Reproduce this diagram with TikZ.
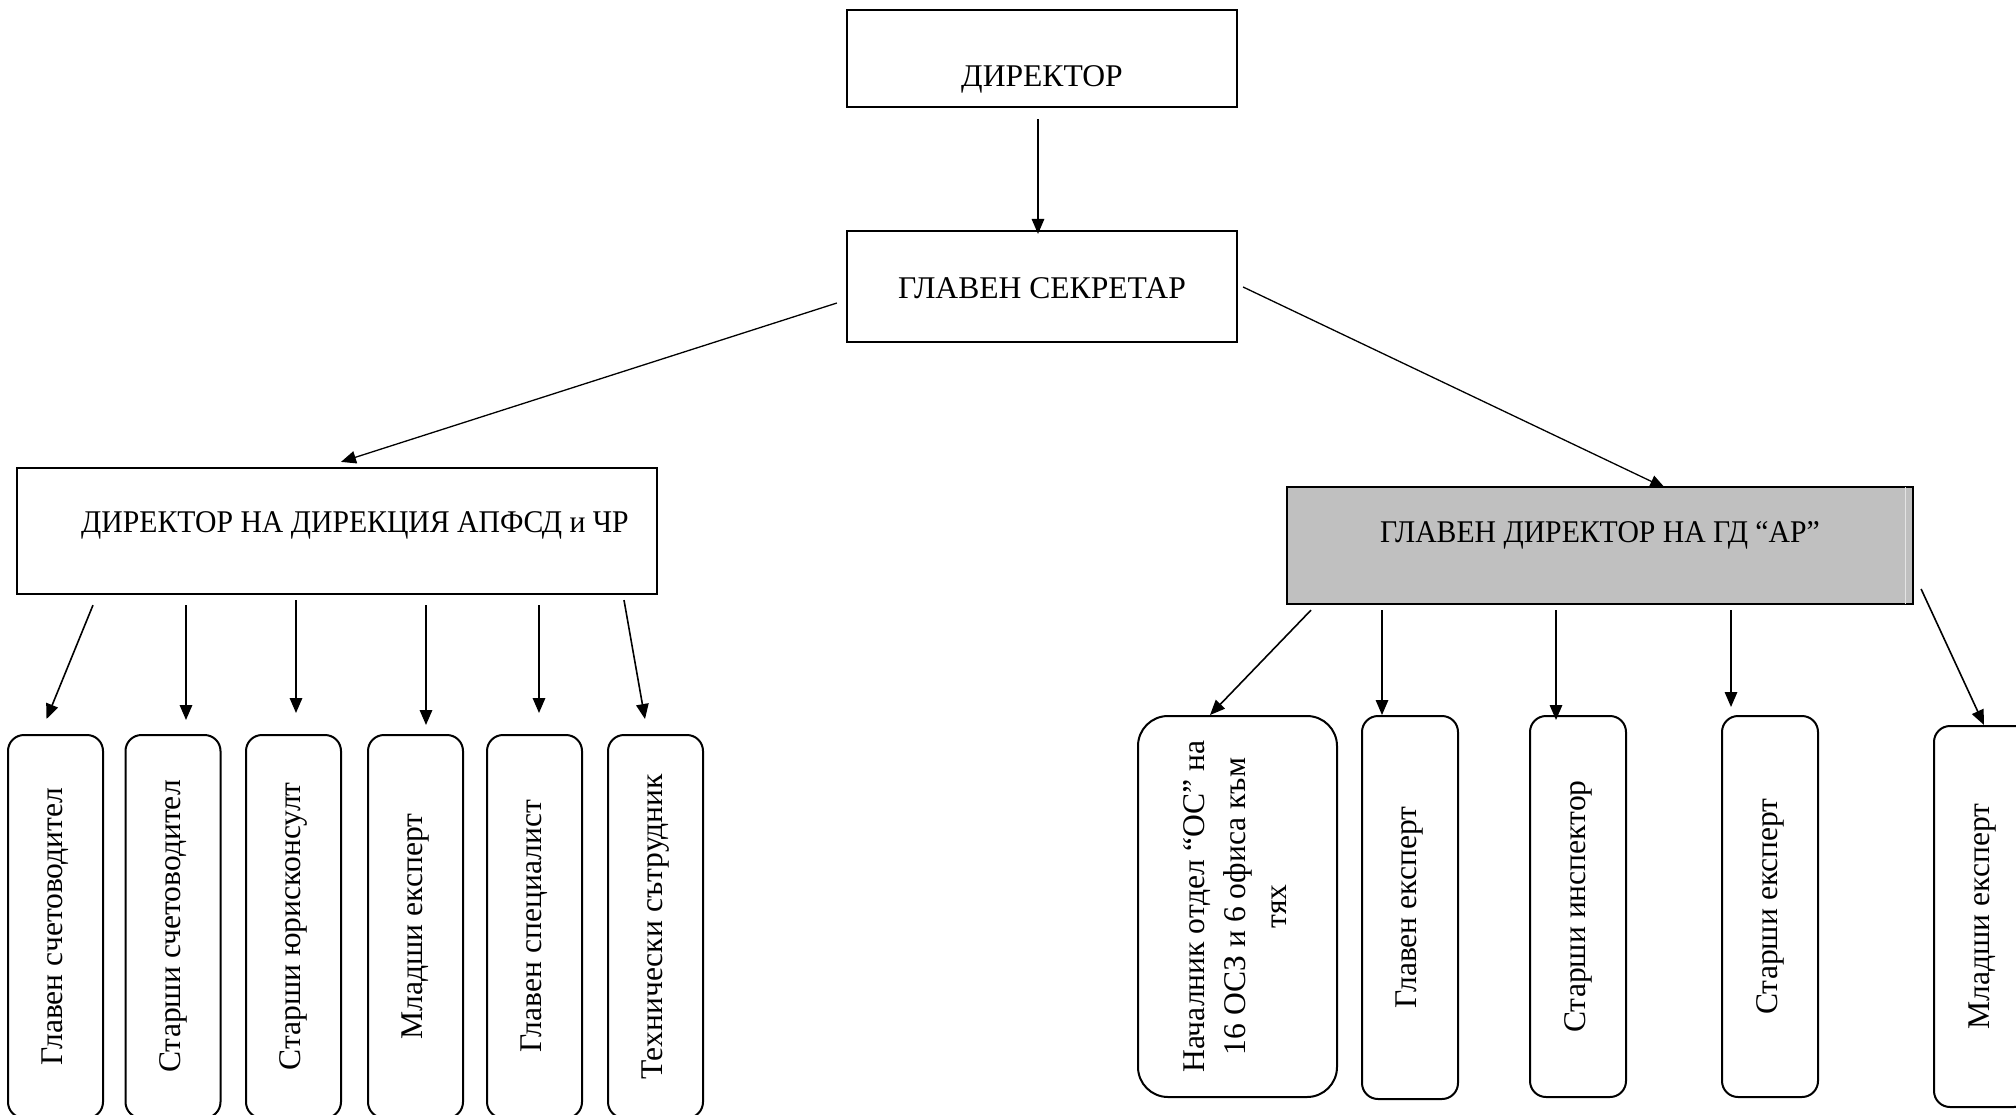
\documentclass[tikz,border=0pt]{standalone}
\usepackage{fontspec}
\setmainfont{Liberation Serif}
\newfontfamily\narrowserif{Liberation Serif}[FakeStretch=0.94]
\usepackage{graphicx}
\usetikzlibrary{arrows.meta, calc}
\definecolor{headgrey}{RGB}{192,192,192}
\definecolor{stripgrey}{RGB}{228,228,228}
\newcommand{\boxfont}{\fontsize{31.6}{41}\selectfont}

\begin{document}
\begin{tikzpicture}[x=1pt, y=-1pt, >={Triangle[length=15pt, width=12.5pt]},
  font=\boxfont,
  box/.style={draw, line width=2.2pt, inner sep=0pt},
  post/.style={draw, line width=2pt, rounded corners=16pt, inner sep=0pt,
    minimum width=95pt, minimum height=383pt},
  arr/.style={->, line width=1.6pt}]
  \useasboundingbox (0,0) rectangle (2016,1114);
  \clip (0,0) rectangle (2016,1114);

  % top of the chart
  \node[box, minimum width=390pt, minimum height=97pt, text height=55pt, text depth=0pt] (dir) at (1042,58.5) {ДИРЕКТОР};
  \node[box, minimum width=390pt, minimum height=111pt, text height=23pt, text depth=0pt] (sec) at (1042,286.5) {ГЛАВЕН СЕКРЕТАР};

  % the two directorates
  \node[box, minimum width=640pt, minimum height=126pt, text height=12pt, text depth=10pt,
    font=\fontsize{31.6}{41}\narrowserif] (apf) at (337,531) {\hspace*{36pt}ДИРЕКТОР НА ДИРЕКЦИЯ АПФСД и ЧР};
  \node[box, fill=headgrey, minimum width=626pt, minimum height=117pt, text height=10pt, text depth=17pt,
    font=\fontsize{31.6}{41}\narrowserif] (ga) at (1600,545.5) {ГЛАВЕН ДИРЕКТОР НА ГД “АР”};
  \draw[stripgrey, line width=1pt] ($(ga.north east)+(-9,1.1)$) -- ($(ga.south east)+(-9,-1.1)$);

  % staff under АПФСД и ЧР
  \node[post] (glsch) at (55.5,926.5) {\rotatebox{90}{Главен счетоводител}};
  \node[post] (stsch) at (173,926.5) {\rotatebox{90}{Старши счетоводител}};
  \node[post] (styur) at (293.5,926.5) {\rotatebox{90}{Старши юрисконсулт}};
  \node[post] (mlexp) at (415.5,926.5) {\rotatebox{90}{Младши експерт}};
  \node[post] (glspec) at (534.5,926.5) {\rotatebox{90}{Главен специалист}};
  \node[post] (tehn) at (655.5,926.5) {\rotatebox{90}{Технически сътрудник}};

  % staff under ГД "АР"
  \node[post, minimum width=199pt, minimum height=381pt, rounded corners=30pt] (nach) at (1237.5,906.5)
    {\rotatebox{90}{\begin{tabular}{@{}c@{}}Началник отдел “ОС” на\\16 ОСЗ и 6 офиса към\\тях\end{tabular}}};
  \node[post, minimum width=96pt] (glexp) at (1410,907.5) {\rotatebox{90}{Главен експерт}};
  \node[post, minimum width=96pt, minimum height=381pt] (stinsp) at (1578,906.5) {\rotatebox{90}{Старши инспектор}};
  \node[post, minimum width=96pt, minimum height=381pt] (stexp) at (1770,906.5) {\rotatebox{90}{Старши експерт}};
  \node[post, minimum width=96pt, minimum height=381pt] (mlexpb) at (1982,916.5) {\rotatebox{90}{Младши експерт}};

  % arrows
  \draw[arr] ($(dir.south)+(-4,11)$) -- ($(sec.north)+(-4,4)$);
  \draw[arr, line width=1.3pt] ($(sec.west)+(-9,16.5)$) -- ($(apf.north)+(4,-5)$);
  \draw[arr, line width=1.3pt] ($(sec.east)+(5,0.5)$) -- ($(ga.north)+(65,2)$);

  \draw[arr] ($(apf.south)+(-244,10)$) -- ($(glsch.north)+(-9,-15)$);
  \draw[arr] ($(apf.south)+(-151,10)$) -- ($(stsch.north)+(13,-14)$);
  \draw[arr] ($(apf.south)+(-41,5)$) -- ($(styur.north)+(2.5,-21)$);
  \draw[arr] ($(apf.south)+(89,10)$) -- ($(mlexp.north)+(10.5,-9)$);
  \draw[arr] ($(apf.south)+(202,10)$) -- ($(glspec.north)+(4.5,-21)$);
  \draw[arr] ($(apf.south)+(287,5)$) -- ($(tehn.north)+(-10.5,-15)$);

  \draw[arr] ($(ga.south)+(-289,5)$) -- ($(nach.north)+(-27.5,0)$);
  \draw[arr] ($(ga.south)+(-218,5)$) -- ($(glexp.north)+(-28,0)$);
  \draw[arr] ($(ga.south)+(-44,5)$) -- ($(stinsp.north)+(-22,5)$);
  \draw[arr] ($(ga.south)+(131,5)$) -- ($(stexp.north)+(-39,-8)$);
  \draw[arr] ($(ga.east)+(7,43.5)$) -- ($(mlexpb.north)+(2,0)$);
\end{tikzpicture}
\end{document}
